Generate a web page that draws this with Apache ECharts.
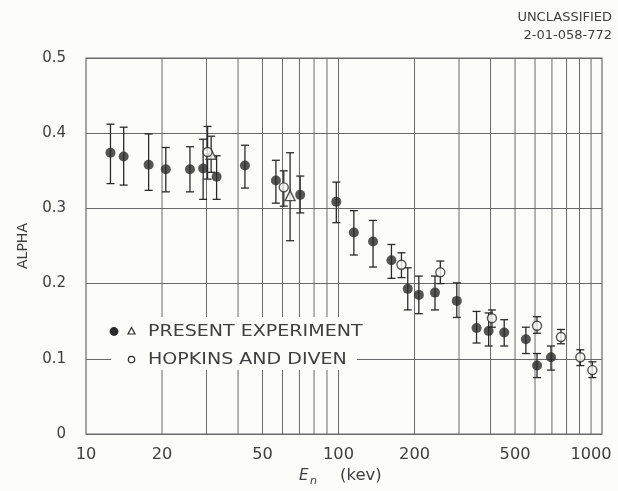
<!DOCTYPE html>
<html>
<head>
<meta charset="utf-8">
<script src="https://cdn.jsdelivr.net/npm/echarts@6/dist/echarts.min.js"></script>
<style>
  html, body { margin: 0; padding: 0; background: #fcfcf8; }
  #chart { width: 618px; height: 491px; }
</style>
</head>
<body>
<div id="chart"></div>
<script>
// Present experiment, filled circles: neutron energy (keV), alpha, error bar ends
const presentE     = [12.5, 14.1, 17.7, 20.7, 25.8, 29.1, 32.9, 42.6, 56.5, 70.5, 98, 115, 137, 162, 188, 208, 241, 294, 352, 393, 453, 552, 611, 694];
const presentAlpha = [0.374, 0.369, 0.358, 0.352, 0.352, 0.353, 0.342, 0.357, 0.337, 0.318, 0.309, 0.268, 0.256, 0.231, 0.193, 0.185, 0.188, 0.177, 0.141, 0.137, 0.135, 0.126, 0.091, 0.102];
const presentLow   = [0.333, 0.331, 0.324, 0.322, 0.322, 0.312, 0.312, 0.327, 0.307, 0.294, 0.281, 0.238, 0.222, 0.207, 0.165, 0.160, 0.165, 0.155, 0.121, 0.117, 0.117, 0.107, 0.075, 0.085];
const presentHigh  = [0.412, 0.408, 0.399, 0.381, 0.382, 0.392, 0.370, 0.384, 0.364, 0.343, 0.335, 0.297, 0.284, 0.252, 0.221, 0.210, 0.210, 0.201, 0.163, 0.161, 0.152, 0.142, 0.107, 0.117];

// Present experiment, open triangles
const triE     = [31.3, 64.3];
const triAlpha = [0.372, 0.317];
const triLow   = [0.348, 0.257];
const triHigh  = [0.396, 0.374];

// Hopkins and Diven, open circles
const hdE     = [30.3, 60.7, 177.5, 253, 405, 611, 760, 907, 1012];
const hdAlpha = [0.375, 0.328, 0.225, 0.215, 0.154, 0.144, 0.129, 0.102, 0.085];
const hdLow   = [0.339, 0.303, 0.208, 0.200, 0.142, 0.134, 0.120, 0.091, 0.075];
const hdHigh  = [0.409, 0.350, 0.241, 0.230, 0.165, 0.156, 0.139, 0.112, 0.096];

// Axis decorations
const xGridValues = [20, 30, 40, 50, 60, 70, 80, 90, 100, 200, 300, 400, 500, 600, 700, 800, 900, 1000];
const xTickLabels = [10, 20, 50, 100, 200, 500, 1000];

const BG = '#fcfcf8';
const INK = '#2a2a2a';
const GRIDC = '#6a6a6a';
const TEXTC = '#3f3f3f';
const FONT = '"DejaVu Sans", sans-serif';

function zip(...cols) { return cols[0].map((_, i) => cols.map(c => c[i])); }

function errorBarItem(params, api) {
  const x = api.value(0);
  const lo = api.coord([x, api.value(2)]);
  const hi = api.coord([x, api.value(3)]);
  const cap = 4;
  const st = { stroke: INK, lineWidth: 1.3 };
  return {
    type: 'group',
    children: [
      { type: 'line', shape: { x1: lo[0], y1: lo[1], x2: hi[0], y2: hi[1] }, style: st },
      { type: 'line', shape: { x1: lo[0] - cap, y1: lo[1], x2: lo[0] + cap, y2: lo[1] }, style: st },
      { type: 'line', shape: { x1: hi[0] - cap, y1: hi[1], x2: hi[0] + cap, y2: hi[1] }, style: st }
    ]
  };
}

const chart = echarts.init(document.getElementById('chart'), null, { renderer: 'canvas' });

chart.setOption({
  backgroundColor: BG,
  animation: false,
  grid: {
    left: 86, top: 58, width: 516, height: 376,
    show: true, borderColor: GRIDC, borderWidth: 1.2, backgroundColor: 'transparent'
  },
  xAxis: {
    type: 'log', logBase: 10, min: 10, max: 1105,
    axisLine: { show: false }, axisTick: { show: false },
    axisLabel: { show: false }, splitLine: { show: false }
  },
  yAxis: {
    type: 'value', min: 0, max: 0.5, interval: 0.1,
    name: 'ALPHA', nameLocation: 'middle', nameGap: 56, nameRotate: 90,
    nameTextStyle: { fontFamily: FONT, fontSize: 14, color: TEXTC },
    axisLine: { show: false }, axisTick: { show: false },
    axisLabel: {
      margin: 20, fontFamily: FONT, fontSize: 15, color: TEXTC,
      formatter: v => (v === 0 ? '0' : v.toFixed(1))
    },
    splitLine: { show: true, lineStyle: { color: GRIDC, width: 1 } }
  },
  series: [
    {
      // vertical decade / sub-decade grid lines
      type: 'custom', z: 1, silent: true,
      data: xGridValues.map(v => [v]),
      renderItem: (params, api) => {
        const a = api.coord([api.value(0), 0]);
        const b = api.coord([api.value(0), 0.5]);
        return { type: 'line', shape: { x1: a[0], y1: a[1], x2: b[0], y2: b[1] },
                 style: { stroke: GRIDC, lineWidth: 1 } };
      }
    },
    {
      // x tick labels
      type: 'custom', z: 1, silent: true, clip: false,
      data: xTickLabels.map(v => [v]),
      renderItem: (params, api) => {
        const p = api.coord([api.value(0), 0]);
        return { type: 'text', x: p[0], y: p[1] + 21, scaleX: 1.08,
                 style: { text: String(api.value(0)), fill: TEXTC, font: '15px ' + FONT,
                          align: 'center', verticalAlign: 'middle' } };
      }
    },
    {
      type: 'custom', z: 10, silent: true,
      data: zip(presentE, presentAlpha, presentLow, presentHigh),
      renderItem: errorBarItem
    },
    {
      type: 'custom', z: 10, silent: true,
      data: zip(triE, triAlpha, triLow, triHigh),
      renderItem: errorBarItem
    },
    {
      type: 'custom', z: 10, silent: true,
      data: zip(hdE, hdAlpha, hdLow, hdHigh),
      renderItem: errorBarItem
    },
    {
      name: 'triangles', type: 'scatter', z: 11,
      symbol: 'triangle', symbolSize: [10, 10],
      itemStyle: { color: BG, borderColor: INK, borderWidth: 1.4 },
      data: zip(triE, triAlpha)
    },
    {
      name: 'PRESENT EXPERIMENT', type: 'scatter', z: 12,
      symbol: 'circle', symbolSize: 10,
      itemStyle: { color: INK },
      data: zip(presentE, presentAlpha)
    },
    {
      name: 'HOPKINS AND DIVEN', type: 'scatter', z: 12,
      symbol: 'circle', symbolSize: 9,
      itemStyle: { color: BG, borderColor: INK, borderWidth: 1.4 },
      data: zip(hdE, hdAlpha)
    }
  ],
  graphic: [
    // legend panel
    { type: 'rect', z: 5, shape: { x: 111, y: 317, width: 246, height: 53 }, style: { fill: BG } },
    { type: 'circle', z: 6, shape: { cx: 114, cy: 331.5, r: 4.4 }, style: { fill: INK } },
    { type: 'polygon', z: 6, shape: { points: [[131.5, 327.5], [135, 334], [128, 334]] },
      style: { fill: BG, stroke: INK, lineWidth: 1.2 } },
    { type: 'text', z: 6, x: 148, y: 331.5, scaleX: 1.19,
      style: { text: 'PRESENT EXPERIMENT', font: '16px ' + FONT, fill: TEXTC, verticalAlign: 'middle' } },
    { type: 'circle', z: 6, shape: { cx: 131.5, cy: 359.5, r: 3.2 },
      style: { fill: BG, stroke: INK, lineWidth: 1.2 } },
    { type: 'text', z: 6, x: 148, y: 359.5, scaleX: 1.19,
      style: { text: 'HOPKINS AND DIVEN', font: '16px ' + FONT, fill: TEXTC, verticalAlign: 'middle' } },
    // x axis title
    { type: 'text', x: 299, y: 476,
      style: { text: 'E', font: 'italic 15px ' + FONT, fill: TEXTC, verticalAlign: 'middle' } },
    { type: 'text', x: 310, y: 481,
      style: { text: 'n', font: 'italic 11px ' + FONT, fill: TEXTC, verticalAlign: 'middle' } },
    { type: 'text', x: 340, y: 476, scaleX: 1.1,
      style: { text: '(kev)', font: '15px ' + FONT, fill: TEXTC, verticalAlign: 'middle' } },
    // document marking
    { type: 'text', x: 612, y: 18,
      style: { text: 'UNCLASSIFIED', font: '13px ' + FONT, fill: TEXTC, align: 'right', verticalAlign: 'middle' } },
    { type: 'text', x: 612, y: 36,
      style: { text: '2-01-058-772', font: '13px ' + FONT, fill: TEXTC, align: 'right', verticalAlign: 'middle' } }
  ]
});
</script>
</body>
</html>
